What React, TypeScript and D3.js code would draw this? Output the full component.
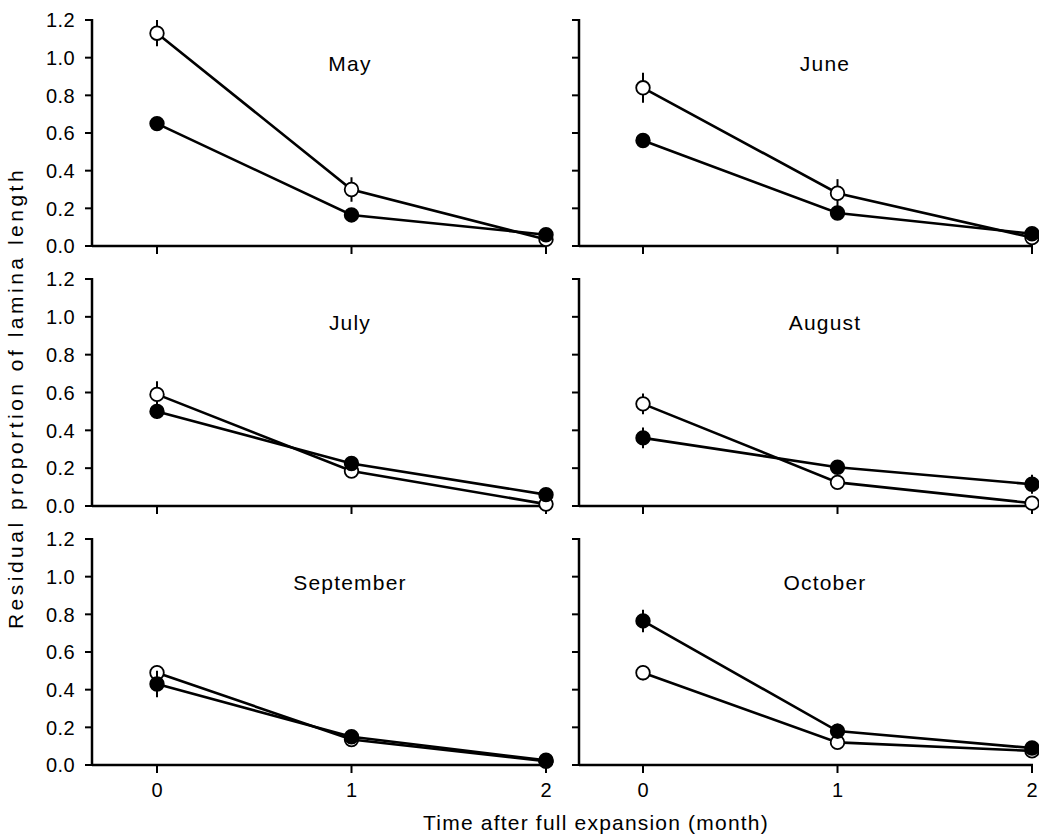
import React from "react";
import * as d3 from "d3";

const months = ["May", "June", "July", "August", "September", "October"];
const times = [0, 1, 2];
const yTicks = [0, 0.2, 0.4, 0.6, 0.8, 1.0, 1.2];
const xTicks = [0, 1, 2];

// filled circles
const filledMean = [
  [0.65, 0.165, 0.06],
  [0.56, 0.175, 0.065],
  [0.5, 0.225, 0.06],
  [0.36, 0.205, 0.115],
  [0.43, 0.15, 0.025],
  [0.765, 0.18, 0.09],
];
const filledErr = [
  [0.035, 0.01, 0.01],
  [0.015, 0.01, 0.02],
  [0.04, 0.015, 0.01],
  [0.055, 0.035, 0.05],
  [0.07, 0.03, 0.01],
  [0.06, 0.04, 0.01],
];
// open circles
const openMean = [
  [1.13, 0.3, 0.035],
  [0.84, 0.28, 0.045],
  [0.59, 0.185, 0.01],
  [0.54, 0.125, 0.015],
  [0.49, 0.135, 0.02],
  [0.49, 0.12, 0.075],
];
const openErr = [
  [0.07, 0.065, 0.01],
  [0.08, 0.075, 0.01],
  [0.07, 0.01, 0.01],
  [0.055, 0.01, 0.01],
  [0.04, 0.01, 0.01],
  [0.04, 0.01, 0.01],
];

const W = 1039;
const H = 838;
const colLeft = [92, 579];
const x0px = [157, 643];
const xStep = 194.5;
const rowTop = [20, 279, 539];
const rowBottom = [246, 506, 765];
const titleX = [350, 825];
const FONT = "'Liberation Sans', Arial, Helvetica, sans-serif";

function Panel({ idx }: { idx: number }) {
  const col = idx % 2;
  const row = Math.floor(idx / 2);
  const x = d3
    .scaleLinear()
    .domain([0, 2])
    .range([x0px[col], x0px[col] + 2 * xStep]);
  const y = d3.scaleLinear().domain([0, 1.2]).range([rowBottom[row], rowTop[row]]);
  const line = d3
    .line<number>()
    .x((_, i) => x(times[i]))
    .y((d) => y(d));
  const series = [
    { mean: openMean[idx], err: openErr[idx], fill: "#fff" },
    { mean: filledMean[idx], err: filledErr[idx], fill: "#000" },
  ];
  const left = colLeft[col];
  const x2 = x(2);
  return (
    <g>
      <line x1={left} x2={left} y1={y(1.2) - 1} y2={y(0) + 1} stroke="#000" strokeWidth={2.5} />
      <line x1={left} x2={x2 + 1} y1={y(0)} y2={y(0)} stroke="#000" strokeWidth={2.5} />
      {yTicks.map((t) => (
        <g key={"yt" + t}>
          <line x1={left - 7} x2={left} y1={y(t)} y2={y(t)} stroke="#000" strokeWidth={2} />
          {col === 0 && (
            <text
              x={left - 17}
              y={y(t)}
              dy="0.36em"
              textAnchor="end"
              fontSize={20}
              letterSpacing={0.4}
              fontFamily={FONT}
            >
              {t.toFixed(1)}
            </text>
          )}
        </g>
      ))}
      {xTicks.map((t) => (
        <g key={"xt" + t}>
          <line x1={x(t)} x2={x(t)} y1={y(0)} y2={y(0) + 8} stroke="#000" strokeWidth={2} />
          {row === 2 && (
            <text x={x(t)} y={y(0) + 32} textAnchor="middle" fontSize={20} fontFamily={FONT}>
              {t}
            </text>
          )}
        </g>
      ))}
      <text
        x={titleX[col]}
        y={rowTop[row] + 51}
        textAnchor="middle"
        fontSize={21}
        letterSpacing={1.2}
        fontFamily={FONT}
      >
        {months[idx]}
      </text>
      {series.map((s, si) => (
        <path key={"l" + si} d={line(s.mean) || ""} fill="none" stroke="#000" strokeWidth={2.6} />
      ))}
      {series.map((s, si) => (
        <g key={"s" + si}>
          {s.mean.map((m, i) => (
            <line
              key={"e" + i}
              x1={x(times[i])}
              x2={x(times[i])}
              y1={y(m - s.err[i])}
              y2={y(m + s.err[i])}
              stroke="#000"
              strokeWidth={2}
            />
          ))}
          {s.mean.map((m, i) => (
            <circle
              key={"c" + i}
              cx={x(times[i])}
              cy={y(m)}
              r={6.8}
              fill={s.fill}
              stroke="#000"
              strokeWidth={1.8}
            />
          ))}
        </g>
      ))}
    </g>
  );
}

export default function App() {
  return (
    <svg
      width={W}
      height={H}
      style={{ position: "absolute", left: 0, top: 0, background: "#fff" }}
    >
      <rect x={0} y={0} width={W} height={H} fill="#fff" />
      {months.map((_, i) => (
        <Panel key={i} idx={i} />
      ))}
      <text
        transform={`translate(23, 398) rotate(-90)`}
        textAnchor="middle"
        fontSize={21}
        letterSpacing={3.5}
        fontFamily={FONT}
      >
        Residual proportion of lamina length
      </text>
      <text
        x={596}
        y={830}
        textAnchor="middle"
        fontSize={21}
        letterSpacing={1.2}
        fontFamily={FONT}
      >
        Time after full expansion (month)
      </text>
    </svg>
  );
}
